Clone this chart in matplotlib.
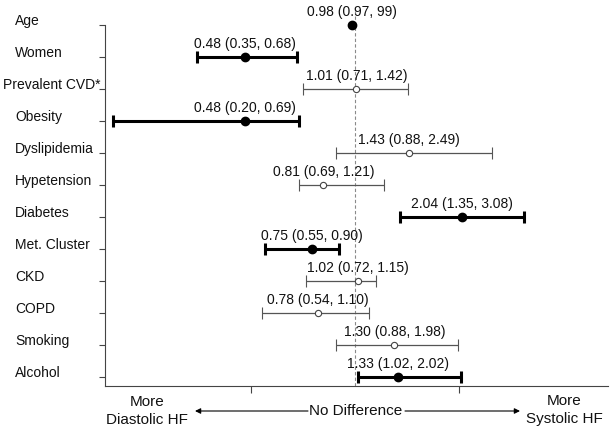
import matplotlib
matplotlib.use("Agg")
import matplotlib.pyplot as plt
from matplotlib import transforms
from matplotlib.ticker import NullLocator

plt.rcParams['font.family'] = ['Liberation Sans', 'DejaVu Sans']

# odds ratios (systolic vs diastolic HF) with 95% CI
factors = ['Age', 'Women', 'Prevalent CVD*', 'Obesity', 'Dyslipidemia', 'Hypetension',
           'Diabetes', 'Met. Cluster', 'CKD', 'COPD', 'Smoking', 'Alcohol']
estimate = [0.98, 0.48, 1.01, 0.48, 1.43, 0.81, 2.04, 0.75, 1.02, 0.78, 1.30, 1.33]
lower = [0.97, 0.35, 0.71, 0.20, 0.88, 0.69, 1.35, 0.55, 0.72, 0.54, 0.88, 1.02]
upper = [0.99, 0.68, 1.42, 0.69, 2.49, 1.21, 3.08, 0.90, 1.15, 1.10, 1.98, 2.02]
significant = [True, True, False, True, False, False, True, True, False, False, False, True]
ci_text = ['0.98 (0.97, 99)', '0.48 (0.35, 0.68)', '1.01 (0.71, 1.42)', '0.48 (0.20, 0.69)',
           '1.43 (0.88, 2.49)', '0.81 (0.69, 1.21)', '2.04 (1.35, 3.08)', '0.75 (0.55, 0.90)',
           '1.02 (0.72, 1.15)', '0.78 (0.54, 1.10)', '1.30 (0.88, 1.98)', '1.33 (1.02, 2.02)']

W, H = 612, 436
fig = plt.figure(figsize=(W / 100, H / 100), dpi=100)
ax = fig.add_axes([105 / W, 1 - 386 / H, 503 / W, 375.4 / H])

rows = list(range(len(factors)))
for i in rows:
    e, l, h = estimate[i], lower[i], upper[i]
    err = [[e - l], [h - e]]
    # very narrow intervals get shorter caps
    cap = 2.5 if (h - l) < 0.05 else 4.5
    if significant[i]:
        ax.errorbar(e, i, xerr=err, fmt='o', color='black', mfc='black', mec='black',
                    ms=6, lw=2.2, capsize=cap, capthick=2.2, zorder=3)
    else:
        ax.errorbar(e, i, xerr=err, fmt='o', color='#555555', mfc='white', mec='#444444',
                    ms=4.5, mew=0.8, lw=0.9, capsize=4, capthick=0.9, zorder=3)
    ax.annotate(ci_text[i], (e, i), xytext=(0, 4.5), textcoords='offset points',
                ha='center', va='bottom', fontsize=10, color='#111111')

ax.set_xscale('log')
ax.set_xlim(0.19, 5.37)
ax.set_ylim(11.28, -0.45)
ax.axvline(1, color='#8a8a8a', lw=0.8, ls=(0, (3, 2)), zorder=1)

ax.set_yticks(rows)
ax.set_yticklabels([])
ax.set_xticks([0.5, 2])
ax.set_xticklabels([])
ax.xaxis.set_minor_locator(NullLocator())
ax.tick_params(axis='y', length=4, width=0.8, color='#444444')
ax.tick_params(axis='x', length=5, width=0.8, color='#444444')
for s in ['top', 'right']:
    ax.spines[s].set_visible(False)
for s in ['left', 'bottom']:
    ax.spines[s].set_color('#444444')
    ax.spines[s].set_linewidth(0.8)
ax.spines['left'].set_bounds(11.28, 0)

# row labels, left aligned, a bit above the tick
trans = transforms.blended_transform_factory(fig.transFigure, ax.transData)
labels = []
for i, name in enumerate(factors):
    labels.append(ax.text(15 / W, i - 0.13, name, transform=trans, ha='left', va='center',
                          fontsize=10, color='#111111'))
fig.canvas.draw()
for t in labels:
    bb = t.get_window_extent()
    if bb.x1 > 101:
        t.set_x((15 - (bb.x1 - 101)) / W)

# bottom direction labels
ybot = 1 - 411 / H
fig.text(147 / W, ybot, 'More\nDiastolic HF', ha='center', va='center', fontsize=11,
         linespacing=1.35, color='#111111')
fig.text(564 / W, ybot + 0.002, 'More\nSystolic HF', ha='center', va='center', fontsize=11,
         linespacing=1.35, color='#111111')
fig.text(356 / W, ybot, 'No Difference', ha='center', va='center', fontsize=11, color='#111111')
arrow = dict(arrowstyle='-|>', color='black', lw=0.8, mutation_scale=8, shrinkA=0, shrinkB=0)
ax.annotate('', xy=(195 / W, ybot), xytext=(308 / W, ybot), xycoords='figure fraction',
            textcoords='figure fraction', arrowprops=arrow)
ax.annotate('', xy=(520 / W, ybot), xytext=(405 / W, ybot), xycoords='figure fraction',
            textcoords='figure fraction', arrowprops=arrow)

fig.savefig('out.png', dpi=100)
